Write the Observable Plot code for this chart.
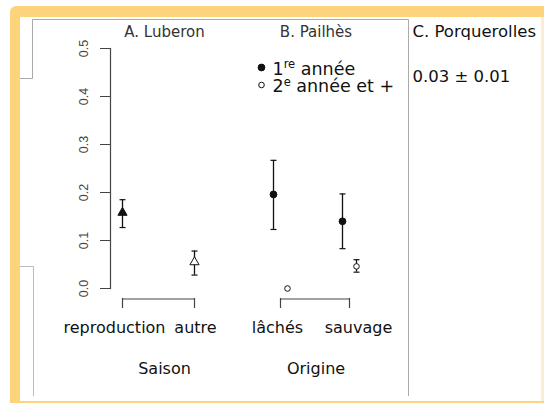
<!DOCTYPE html>
<html><head><meta charset="utf-8">
<script src="https://cdn.jsdelivr.net/npm/d3@7"></script>
<script src="https://cdn.jsdelivr.net/npm/@observablehq/plot@0.6"></script>
<style>
html,body{margin:0;padding:0;background:#fff;}
#wrap{position:relative;width:544px;height:403px;overflow:hidden;background:#fff;}
#wrap > svg{position:absolute;left:0;top:0;}
</style></head><body><div id="wrap"></div>
<script>
// ---------------- data ----------------
const yTicks = [0, 0.1, 0.2, 0.3, 0.4, 0.5];

// A. Luberon (season)
const lubTitle = "A. Luberon";
const lubAxisLabel = "Saison";
const lubCat = ["reproduction", "autre"];
const lubMean = [0.158, 0.055];
const lubLow = [0.127, 0.028];
const lubHigh = [0.185, 0.078];
const lubFilled = [true, false];

// B. Pailhès (origin) — 1re année (filled) and 2e année et + (open)
const paiTitle = "B. Pailhès";
const paiAxisLabel = "Origine";
const paiCat = ["lâchés", "sauvage"];
const pai1Mean = [0.196, 0.140];
const pai1Low = [0.123, 0.083];
const pai1High = [0.267, 0.197];
const pai2Mean = [0.000, 0.046];
const pai2Low = [null, 0.034];
const pai2High = [null, 0.060];

const legendLabels = ["1re année", "2e année et +"];

// C. Porquerolles
const porTitle = "C. Porquerolles";
const porValue = "0.03 ± 0.01";

// ---------------- layout / style ----------------
const W = 544, H = 403;
const ink = "#111";
const axisGray = "#444";
const txtFont = "DejaVu Sans, Verdana, sans-serif";
const tickFont = "Liberation Sans, Arial, sans-serif";
const labelNudge = {"reproduction": -8, "autre": 1, "lâchés": -3, "sauvage": 9};
const capSymbol = {draw(context, size) {const w = Math.sqrt(size / Math.PI); context.moveTo(-w, 0); context.lineTo(w, 0);}};

const lub = lubCat.map((c, i) => ({cat: c, mean: lubMean[i], low: lubLow[i], high: lubHigh[i], filled: lubFilled[i]}));
const pai1 = paiCat.map((c, i) => ({cat: c, mean: pai1Mean[i], low: pai1Low[i], high: pai1High[i]}));
const pai2 = paiCat.map((c, i) => ({cat: c, mean: pai2Mean[i], low: pai2Low[i], high: pai2High[i]}));

const wrap = d3.select("#wrap");

// ---------------- background decorations (frame of the pasted figure) ----------------
const bg = wrap.append("svg").attr("width", W).attr("height", H);
bg.append("path")
  .attr("d", "M16,6 H560 V420 H10 V12 A6,6 0 0 1 16,6 Z M20,17 V401 H541 V17 Z")
  .attr("fill", "#fdd47c").attr("fill-rule", "evenodd");
bg.append("rect").attr("x", 541).attr("y", 17).attr("width", 3).attr("height", 384).attr("fill", "#fcecd2");
bg.append("polyline").attr("points", "20,78.5 32.5,78.5 32.5,19.5 408.5,19.5 408.5,396")
  .attr("fill", "none").attr("stroke", "#aaa").attr("stroke-width", 1);
bg.append("polyline").attr("points", "20,266.5 33.5,266.5 33.5,396")
  .attr("fill", "none").attr("stroke", "#bbb").attr("stroke-width", 1);

function errorMarks(data, dx) {
  return [
    Plot.ruleX(data, {x: "cat", y1: "low", y2: "high", dx, stroke: ink, strokeWidth: 1.3}),
    Plot.dot(data, {x: "cat", y: "low", dx, symbol: capSymbol, r: 3, stroke: ink, fill: "none", strokeWidth: 1.2}),
    Plot.dot(data, {x: "cat", y: "high", dx, symbol: capSymbol, r: 3, stroke: ink, fill: "none", strokeWidth: 1.2})
  ];
}
function bracketMarks(cats) {
  return [
    Plot.ruleY([cats], {x1: d => d[0], x2: d => d[1], y: () => 0, dy: 10.5, stroke: axisGray, strokeWidth: 1.2}),
    Plot.ruleX(cats, {x: d => d, insetTop: 250, insetBottom: -20, stroke: axisGray, strokeWidth: 1.2})
  ];
}
function catLabelMarks(cats) {
  return cats.map(c => Plot.text([c], {x: d => d, frameAnchor: "bottom", dy: 44, dx: labelNudge[c],
    lineAnchor: "bottom", fontSize: 16, fontFamily: txtFont, fill: ink}));
}
function groupTextMarks(title, axisLabel) {
  return [
    Plot.text([title], {frameAnchor: "top", dy: -11.5, lineAnchor: "bottom", fontSize: 15, fontFamily: txtFont, fill: "#333"}),
    Plot.text([axisLabel], {frameAnchor: "bottom", dy: 85, lineAnchor: "bottom", fontSize: 16, fontFamily: txtFont, fill: ink})
  ];
}

// ---------------- panel A ----------------
const plotA = Plot.plot({
  width: W, height: H,
  marginTop: 48, marginBottom: 115, marginLeft: 110, marginRight: 326,
  style: {background: "transparent", overflow: "visible"},
  x: {type: "point", domain: lubCat, range: [122, 194], padding: 0, axis: null},
  y: {domain: [0, 0.5]},
  marks: [
    Plot.axisY({ticks: yTicks, tickSize: 10, tickPadding: 13, tickRotate: -90, tickFormat: d3.format(".1f"),
      color: axisGray, fontSize: 12.5, fontFamily: tickFont, label: null}),
    Plot.frame({anchor: "left", stroke: axisGray, strokeWidth: 1.2}),
    ...errorMarks(lub, 0),
    Plot.dot(lub, {x: "cat", y: "mean", symbol: "triangle", r: 3.4, stroke: ink, strokeWidth: 1,
      fill: d => d.filled ? ink : "white"}),
    ...bracketMarks(lubCat),
    ...catLabelMarks(lubCat),
    ...groupTextMarks(lubTitle, lubAxisLabel)
  ]
});

// ---------------- panel B (+ legend and C) ----------------
const plotB = Plot.plot({
  width: W, height: H,
  marginTop: 48, marginBottom: 115, marginLeft: 250, marginRight: 163,
  style: {background: "transparent", overflow: "visible"},
  x: {type: "point", domain: paiCat, range: [279.5, 349], padding: 0, axis: null},
  y: {domain: [0, 0.5], axis: null},
  marks: [
    ...errorMarks(pai1, -7),
    ...errorMarks(pai2, 7),
    Plot.dot(pai1, {x: "cat", y: "mean", dx: -7, r: 3.4, fill: ink, stroke: ink, strokeWidth: 1}),
    Plot.dot(pai2, {x: "cat", y: "mean", dx: 7, r: 2.8, fill: "white", stroke: ink, strokeWidth: 1}),
    ...bracketMarks(paiCat),
    ...catLabelMarks(paiCat),
    ...groupTextMarks(paiTitle, paiAxisLabel),
    // legend
    Plot.dot([legendLabels[0]], {frameAnchor: "top-left", dx: 11, dy: 19, r: 3.4, fill: ink, stroke: ink, strokeWidth: 1}),
    Plot.dot([legendLabels[1]], {frameAnchor: "top-left", dx: 11, dy: 36.5, r: 2.8, fill: "white", stroke: ink, strokeWidth: 1}),
    Plot.text([legendLabels[0]], {frameAnchor: "top-left", dx: 22, dy: 26, textAnchor: "start", lineAnchor: "bottom",
      fontSize: 17.5, fontFamily: txtFont, fill: ink}),
    Plot.text([legendLabels[1]], {frameAnchor: "top-left", dx: 22, dy: 43.5, textAnchor: "start", lineAnchor: "bottom",
      fontSize: 17.5, fontFamily: txtFont, fill: ink}),
    // C. Porquerolles
    Plot.text([porTitle], {frameAnchor: "top-right", dx: 31, dy: -12, textAnchor: "start", lineAnchor: "bottom",
      fontSize: 16.5, fontFamily: txtFont, fill: ink}),
    Plot.text([porValue], {frameAnchor: "top-right", dx: 31, dy: 33, textAnchor: "start", lineAnchor: "bottom",
      fontSize: 16.5, fontFamily: txtFont, fill: ink})
  ]
});

// superscripts in legend ("1re", "2e")
d3.select(plotB).selectAll("text").each(function () {
  const t = this.textContent;
  if (!legendLabels.includes(t)) return;
  const m = t.match(/^(\d)(re|e)(.*)$/);
  if (!m) return;
  const sel = d3.select(this);
  sel.text(null);
  sel.append("tspan").text(m[1]);
  sel.append("tspan").attr("font-size", 11.5).attr("dy", -6.5).text(m[2]);
  sel.append("tspan").attr("dy", 6.5).text(m[3]);
});

wrap.node().appendChild(plotA);
wrap.node().appendChild(plotB);
</script></body></html>
